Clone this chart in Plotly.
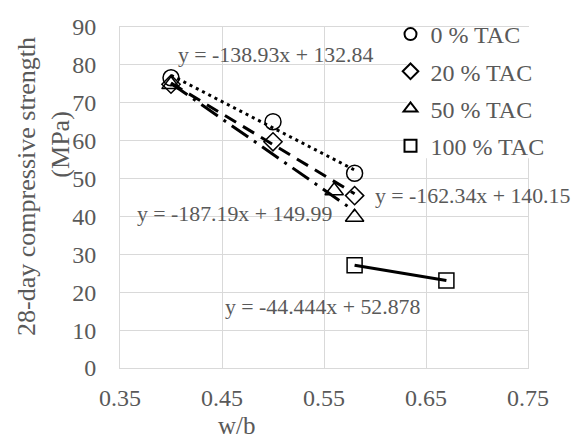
import plotly.graph_objects as go

# Measured 28-day compressive strength (MPa) vs water/binder ratio
series_names = ["0 % TAC", "20 % TAC", "50 % TAC", "100 % TAC"]
wb_0 = [0.40, 0.50, 0.58]
fc_0 = [76.6, 65.0, 51.4]
wb_20 = [0.40, 0.50, 0.58]
fc_20 = [74.9, 59.7, 45.5]
wb_50 = [0.40, 0.56, 0.58]
fc_50 = [74.8, 46.8, 39.8]
wb_100 = [0.58, 0.67]
fc_100 = [27.1, 23.1]

# Linear trendline coefficients (y = slope * x + intercept)
slopes = [-138.93, -162.34, -187.19, -44.444]
intercepts = [132.84, 140.15, 149.99, 52.878]

x_ticks = [0.35, 0.45, 0.55, 0.65, 0.75]
y_ticks = [0, 10, 20, 30, 40, 50, 60, 70, 80, 90]

xs = [wb_0, wb_20, wb_50, wb_100]
ys = [fc_0, fc_20, fc_50, fc_100]
symbols = ["circle-open", "diamond-open", "triangle-up-open", "square-open"]
sizes = [16, 14, 16, 15]
dashes = ["3px,4px", "13px,8px", "20px,7px,3px,7px", "solid"]

FONT = "Liberation Serif"
GRAY = "#595959"
GRID = "#d9d9d9"

fig = go.Figure()

# Trendlines spanning each series' w/b range
for i in range(4):
    x0, x1 = min(xs[i]), max(xs[i])
    fig.add_trace(go.Scatter(
        x=[x0, x1],
        y=[slopes[i] * x0 + intercepts[i], slopes[i] * x1 + intercepts[i]],
        mode="lines",
        line=dict(color="black", width=3, dash=dashes[i]),
        showlegend=False,
        hoverinfo="skip",
    ))

# Data markers
for i in range(4):
    fig.add_trace(go.Scatter(
        x=xs[i], y=ys[i], mode="markers", name=series_names[i],
        legendgroup=series_names[i],
        marker=dict(symbol=symbols[i], size=sizes[i], color="black",
                    line=dict(color="black", width=1.5)),
    ))

def eq_text(m, b):
    return f"y = {m:g}x + {b:g}"

label_pos = [(0.502, 82.6), (0.696, 45.5), (0.4627, 40.65), (0.549, 16.1)]
annotations = []
for i in range(4):
    annotations.append(dict(
        x=label_pos[i][0], y=label_pos[i][1], xref="x", yref="y",
        text=eq_text(slopes[i], intercepts[i]), showarrow=False,
        font=dict(family=FONT, size=21.8, color=GRAY),
        xanchor="center", yanchor="middle",
    ))

annotations += [
    dict(x=0.287, y=-0.170, xref="paper", yref="paper", text="w/b",
         showarrow=False, font=dict(family=FONT, size=25, color=GRAY),
         xanchor="center", yanchor="middle"),
    dict(x=-0.228, y=0.534, xref="paper", yref="paper",
         text="28-day compressive strength", textangle=-90,
         showarrow=False, font=dict(family=FONT, size=26, color=GRAY),
         xanchor="center", yanchor="middle"),
    dict(x=-0.1446, y=0.655, xref="paper", yref="paper", text="(MPa)",
         textangle=-90, showarrow=False,
         font=dict(family=FONT, size=26, color=GRAY),
         xanchor="center", yanchor="middle"),
]

fig.update_layout(
    width=577, height=441,
    margin=dict(l=120, r=49, t=16, b=73),
    paper_bgcolor="white", plot_bgcolor="white",
    font=dict(family=FONT, size=22, color=GRAY),
    annotations=annotations,
    shapes=[dict(type="rect", xref="paper", yref="paper",
                 x0=0.703, x1=1.02, y0=0.615, y1=1.0,
                 fillcolor="white", line=dict(width=0), layer="above")],
    legend=dict(x=0.663, y=1.044, xanchor="left", yanchor="top",
                bgcolor="rgba(0,0,0,0)", borderwidth=0,
                font=dict(family=FONT, size=24, color=GRAY),
                tracegroupgap=3, itemsizing="constant"),
    xaxis=dict(range=[0.35, 0.75], tickvals=x_ticks,
               ticktext=[f"{v:.2f}" for v in x_ticks],
               showgrid=True, gridcolor=GRID, gridwidth=1,
               showline=True, linecolor=GRID, linewidth=1, mirror=True,
               zeroline=False, ticks="", ticklabelstandoff=8,
               tickfont=dict(family=FONT, size=24, color=GRAY)),
    yaxis=dict(range=[0, 90], tickvals=y_ticks,
               showgrid=True, gridcolor=GRID, gridwidth=1,
               showline=True, linecolor=GRID, linewidth=1, mirror=True,
               zeroline=False, ticks="", ticklabelstandoff=18,
               tickfont=dict(family=FONT, size=24, color=GRAY)),
)

fig.write_html("out.html")
